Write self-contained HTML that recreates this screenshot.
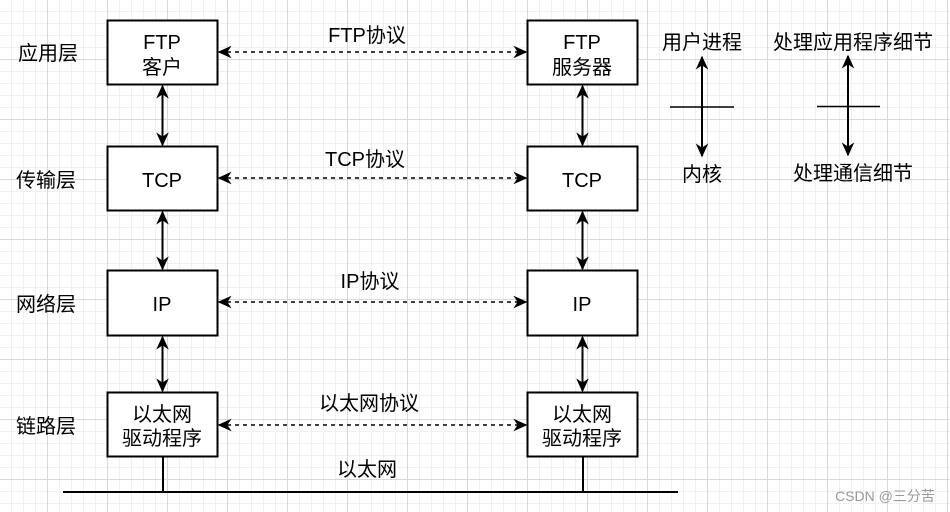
<!DOCTYPE html>
<html><head><meta charset="utf-8"><style>
html,body{margin:0;padding:0;background:#fff;}
svg{display:block;}
text{font-family:"Liberation Sans","Noto Sans CJK SC",sans-serif;fill:#000;}
</style></head><body>
<svg width="950" height="512" viewBox="0 0 950 512" xmlns="http://www.w3.org/2000/svg">
<defs>
<pattern id="minor" x="11" y="11" width="12" height="12" patternUnits="userSpaceOnUse">
<path d="M0 0.5H12M0.5 0V12" stroke="#f0f0f0" stroke-width="1" fill="none"/>
</pattern>
<pattern id="major" x="47" y="59" width="60" height="60" patternUnits="userSpaceOnUse">
<path d="M0 0.5H60M0.5 0V60" stroke="#d9d9d9" stroke-width="1" fill="none"/>
</pattern>
<marker id="ah2" viewBox="0 0 10 10" refX="9" refY="5" markerWidth="14" markerHeight="14" orient="auto-start-reverse" markerUnits="userSpaceOnUse">
<path d="M0 0.5L10 5L0 9.5L3 5Z" fill="#000"/>
</marker>
</defs>
<rect width="950" height="512" fill="url(#minor)"/>
<rect width="950" height="512" fill="url(#major)"/>

<g font-size="20">
<text x="48" y="60" text-anchor="middle">应用层</text>
<text x="46" y="187" text-anchor="middle">传输层</text>
<text x="46" y="311" text-anchor="middle">网络层</text>
<text x="46" y="433" text-anchor="middle">链路层</text>
</g>

<g fill="#fff" stroke="#000" stroke-width="2">
<rect x="107.5" y="20.5" width="110" height="64"/>
<rect x="107.5" y="146.5" width="110" height="64"/>
<rect x="107.5" y="270.5" width="110" height="65"/>
<rect x="107.5" y="392.5" width="110" height="64"/>
<rect x="527.5" y="20.5" width="110" height="64"/>
<rect x="527.5" y="146.5" width="110" height="64"/>
<rect x="527.5" y="270.5" width="110" height="65"/>
<rect x="527.5" y="392.5" width="110" height="64"/>
</g>

<g font-size="20" text-anchor="middle">
<text x="162" y="49">FTP</text><text x="162" y="74">客户</text>
<text x="162" y="187">TCP</text>
<text x="162" y="311">IP</text>
<text x="162" y="421">以太网</text><text x="162" y="445">驱动程序</text>
<text x="582" y="49">FTP</text><text x="582" y="74">服务器</text>
<text x="582" y="187">TCP</text>
<text x="582" y="311">IP</text>
<text x="582" y="421">以太网</text><text x="582" y="445">驱动程序</text>
<text x="367" y="42">FTP协议</text>
<text x="365" y="166">TCP协议</text>
<text x="370" y="288">IP协议</text>
<text x="369" y="410">以太网协议</text>
<text x="367" y="476">以太网</text>
</g>

<g stroke="#000" stroke-width="1.5" stroke-dasharray="4,4" fill="none">
<line x1="219" y1="52" x2="526" y2="52" marker-start="url(#ah2)" marker-end="url(#ah2)"/>
<line x1="219" y1="178" x2="526" y2="178" marker-start="url(#ah2)" marker-end="url(#ah2)"/>
<line x1="219" y1="302" x2="526" y2="302" marker-start="url(#ah2)" marker-end="url(#ah2)"/>
<line x1="219" y1="425" x2="526" y2="425" marker-start="url(#ah2)" marker-end="url(#ah2)"/>
</g>

<g stroke="#000" stroke-width="2" fill="none">
<line x1="162.5" y1="86" x2="162.5" y2="145" marker-start="url(#ah2)" marker-end="url(#ah2)"/>
<line x1="162.5" y1="212" x2="162.5" y2="269" marker-start="url(#ah2)" marker-end="url(#ah2)"/>
<line x1="162.5" y1="337" x2="162.5" y2="391" marker-start="url(#ah2)" marker-end="url(#ah2)"/>
<line x1="582.5" y1="86" x2="582.5" y2="145" marker-start="url(#ah2)" marker-end="url(#ah2)"/>
<line x1="582.5" y1="212" x2="582.5" y2="269" marker-start="url(#ah2)" marker-end="url(#ah2)"/>
<line x1="582.5" y1="337" x2="582.5" y2="391" marker-start="url(#ah2)" marker-end="url(#ah2)"/>
<line x1="163" y1="457" x2="163" y2="492"/>
<line x1="583" y1="457" x2="583" y2="492"/>
<line x1="63" y1="492" x2="678" y2="492"/>
<line x1="702" y1="57" x2="702" y2="156" marker-start="url(#ah2)" marker-end="url(#ah2)"/>
<line x1="848" y1="56" x2="848" y2="155" marker-start="url(#ah2)" marker-end="url(#ah2)"/>
</g>
<g stroke="#000" stroke-width="1.5">
<line x1="670" y1="107" x2="734" y2="107"/>
<line x1="817" y1="106.5" x2="880" y2="106.5"/>
</g>

<g font-size="20" text-anchor="middle">
<text x="702" y="49">用户进程</text>
<text x="702" y="181">内核</text>
<text x="853" y="49">处理应用程序细节</text>
<text x="853" y="180">处理通信细节</text>
</g>
<text x="885" y="501" font-size="14" text-anchor="middle" style="fill:#999">CSDN @三分苦</text>
</svg>
</body></html>
